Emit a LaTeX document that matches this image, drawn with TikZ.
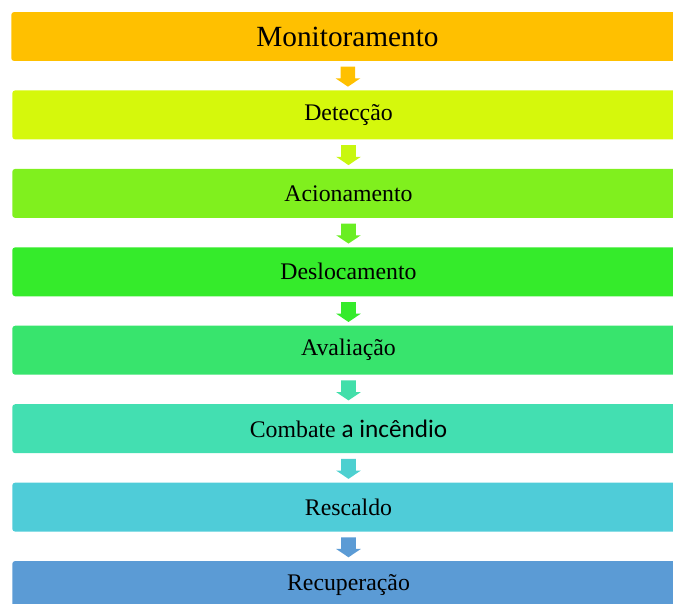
\documentclass[tikz,border=0pt]{standalone}
\usepackage{fontspec}
\setmainfont{Liberation Serif}
\newfontfamily\calfont{Carlito}
\usetikzlibrary{shapes.arrows,calc}

\definecolor{cmon}{HTML}{FFC000}
\definecolor{cdet}{HTML}{D5F80C}
\definecolor{caci}{HTML}{80F01E}
\definecolor{cdes}{HTML}{35EB2B}
\definecolor{cava}{HTML}{38E46D}
\definecolor{ccom}{HTML}{43DFB1}
\definecolor{cres}{HTML}{4FCCD8}
\definecolor{crec}{HTML}{5B9BD5}

\begin{document}
\begin{tikzpicture}[x=0.03cm,y=-0.03cm,
    etapa/.style={fill=#1, rounded corners=2.5pt, minimum width=574pt,
      minimum height=41.8pt, inner sep=0pt, font=\fontsize{20.3}{24}\selectfont},
    seta/.style={single arrow, fill=#1, rotate=-90, minimum height=17pt,
      inner sep=6pt, single arrow head extend=4.3pt, single arrow tip angle=112}]
  \useasboundingbox (0,0) rectangle (673,603);
  \clip (0,0) rectangle (673,603);

  % etapas
  \node[etapa=cmon, font=\fontsize{25}{29}\selectfont] (mon) at (347.5,36.5) {Monitoramento};
  \node[etapa=cdet] (det) at (348.5,114.9) {Detecção};
  \node[etapa=caci] (aci) at (348.5,193.4) {Acionamento};
  \node[etapa=cdes] (des) at (348.5,271.8) {Deslocamento};
  \node[etapa=cava] (ava) at (348.5,350.2) {Avaliação};
  \node[etapa=ccom] (com) at (348.5,428.7) {Combate {\calfont\fontsize{21.5}{24}\selectfont a incêndio}};
  \node[etapa=cres] (res) at (348.5,507.1) {Rescaldo};
  \node[etapa=crec] (rec) at (348.5,585.5) {Recuperação};

  % setas
  \node[seta=cmon] (s1) at ($(mon.south)!0.45!(det.north)$) {};
  \node[seta=cdet!85!caci] (s2) at ($(det.south)!0.45!(aci.north)$) {};
  \node[seta=caci!70!cdes] (s3) at ($(aci.south)!0.45!(des.north)$) {};
  \node[seta=cdes] (s4) at ($(des.south)!0.45!(ava.north)$) {};
  \node[seta=ccom!90!cava] (s5) at ($(ava.south)!0.45!(com.north)$) {};
  \node[seta=cres!80!ccom] (s6) at ($(com.south)!0.45!(res.north)$) {};
  \node[seta=crec] (s7) at ($(res.south)!0.45!(rec.north)$) {};
\end{tikzpicture}
\end{document}
